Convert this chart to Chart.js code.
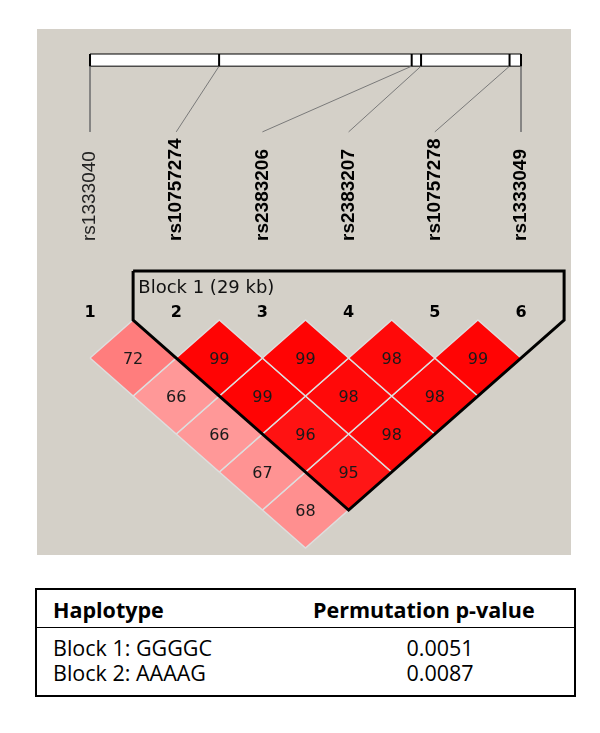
<!DOCTYPE html>
<html>
<head>
<meta charset="utf-8">
<script src="https://cdn.jsdelivr.net/npm/chart.js@4"></script>
<style>
  body { margin: 0; background: #fff; width: 600px; height: 733px; position: relative; overflow: hidden; }
  #ld { position: absolute; left: 37px; top: 29px; }
  .tbl { position: absolute; left: 35px; top: 588px; width: 537px; height: 105px;
         border: 2px solid #000; font-family: "Open Sans", sans-serif; font-size: 21.5px; color: #000; }
  .sep { position: absolute; left: 0; right: 0; top: 37px; border-top: 1.5px solid #000; }
  .cell { position: absolute; white-space: nowrap; line-height: 24px; }
</style>
</head>
<body>
<canvas id="ld" width="534" height="526"></canvas>
<div class="tbl" id="tbl"><div class="sep"></div></div>
<script>
// markers and their physical position (kb from first marker)
const markers = ["rs1333040", "rs10757274", "rs2383206", "rs2383207", "rs10757278", "rs1333049"];
const markerKb = [0, 12.4, 30.9, 31.8, 40.3, 41.4];
const boldMarkers = [false, true, true, true, true, true];

// D' (x100) by distance between markers: lag 1 = neighbours, lag 5 = 1 vs 6
const dpLag1 = [72, 99, 99, 98, 99];
const dpLag2 = [66, 99, 98, 98];
const dpLag3 = [66, 96, 98];
const dpLag4 = [67, 95];
const dpLag5 = [68];

const blockName = "Block 1 (29 kb)";
const blockFirst = 2;
const blockLast = 6;

// table below the plot
const tableHead = ["Haplotype", "Permutation p-value"];
const haplotypes = ["Block 1: GGGGC", "Block 2: AAAAG"];
const pValues = ["0.0051", "0.0087"];

const dpRows = [dpLag1, dpLag2, dpLag3, dpLag4, dpLag5];
const n = markers.length;
const spanKb = markerKb[n - 1];
const kbToX = (kb) => 1 + (n - 1) * kb / spanKb;

// haploview-like colour: full red at D'=1, fading to pink
function dpColor(v) {
  const c = Math.max(0, Math.min(255, Math.round(223 * 2 * (1 - v / 100))));
  return `rgb(255, ${c}, ${c})`;
}

const BAR_TOP = -7.0, BAR_BOT = -6.68, LINK_END = -4.95;
const NAME_Y = -2.08, NUM_Y = -0.18, BLOCK_TOP = -1.29, BLOCK_LABEL_Y = -0.84;

const datasets = [];

// block outline (drawn on top)
datasets.push({
  data: [
    { x: blockFirst - 0.5, y: BLOCK_TOP },
    { x: blockFirst - 0.5, y: 0 },
    { x: (blockFirst + blockLast) / 2, y: blockLast - blockFirst + 1 },
    { x: blockLast + 0.5, y: 0 },
    { x: blockLast + 0.5, y: BLOCK_TOP },
    { x: blockFirst - 0.5, y: BLOCK_TOP },
  ],
  borderColor: "#000",
  borderWidth: 3,
  borderJoinStyle: "miter",
  fill: false,
  pointRadius: 0,
  order: 0,
});

// LD diamonds
const cells = [];
dpRows.forEach((row, k) => {
  const lag = k + 1;
  row.forEach((v, i) => {
    const cx = i + 1 + lag / 2;
    cells.push({ x: cx, y: lag, v: v });
    datasets.push({
      data: [
        { x: cx - 0.5, y: lag },
        { x: cx, y: lag - 1 },
        { x: cx + 0.5, y: lag },
        { x: cx, y: lag + 1 },
        { x: cx - 0.5, y: lag },
      ],
      borderColor: "#dedede",
      borderWidth: 1.5,
      backgroundColor: dpColor(v),
      fill: "shape",
      pointRadius: 0,
      order: 2,
    });
  });
});

// physical map bar
datasets.push({
  data: [
    { x: 1, y: BAR_TOP }, { x: n, y: BAR_TOP },
    { x: n, y: BAR_BOT }, { x: 1, y: BAR_BOT }, { x: 1, y: BAR_TOP },
  ],
  borderColor: "#000",
  borderWidth: 1,
  backgroundColor: "#fff",
  fill: "shape",
  pointRadius: 0,
  order: 3,
});
markerKb.forEach((kb, i) => {
  // tick on the bar
  datasets.push({
    data: [{ x: kbToX(kb), y: BAR_TOP }, { x: kbToX(kb), y: BAR_BOT }],
    borderColor: "#000",
    borderWidth: 2,
    pointRadius: 0,
    fill: false,
    order: 1,
  });
  // link down to the marker name
  datasets.push({
    data: [{ x: kbToX(kb), y: BAR_BOT }, { x: i + 1, y: LINK_END }],
    borderColor: "#7a7a7a",
    borderWidth: 1,
    pointRadius: 0,
    fill: false,
    order: 1,
  });
});

const bgPlugin = {
  id: "bg",
  beforeDraw(chart) {
    const { ctx, width, height } = chart;
    ctx.save();
    ctx.fillStyle = "#d4d0c8";
    ctx.fillRect(0, 0, width, height);
    ctx.restore();
  },
};

const textPlugin = {
  id: "ldText",
  afterDatasetsDraw(chart) {
    const { ctx } = chart;
    const x = chart.scales.x, y = chart.scales.y;
    ctx.save();
    ctx.fillStyle = "#000";

    // marker names, rotated
    markers.forEach((m, i) => {
      ctx.save();
      ctx.translate(x.getPixelForValue(i + 1), y.getPixelForValue(NAME_Y));
      ctx.rotate(-Math.PI / 2);
      ctx.font = (boldMarkers[i] ? "bold " : "") + "19px 'Liberation Sans', Arial, sans-serif";
      ctx.fillStyle = boldMarkers[i] ? "#000" : "#222";
      ctx.textAlign = "left";
      ctx.textBaseline = "middle";
      ctx.fillText(m, 0, 0);
      ctx.restore();
    });

    // marker numbers
    ctx.font = "bold 16px 'DejaVu Sans', sans-serif";
    ctx.textAlign = "center";
    ctx.textBaseline = "middle";
    markers.forEach((m, i) => {
      ctx.fillText(String(i + 1), x.getPixelForValue(i + 1), y.getPixelForValue(NUM_Y));
    });

    // block label
    ctx.font = "18px 'DejaVu Sans', sans-serif";
    ctx.textAlign = "left";
    ctx.fillStyle = "#111";
    ctx.fillText(blockName, x.getPixelForValue(blockFirst - 0.44), y.getPixelForValue(BLOCK_LABEL_Y));

    // D' values
    ctx.font = "16px 'DejaVu Sans', sans-serif";
    ctx.textAlign = "center";
    ctx.fillStyle = "#1a1a1a";
    cells.forEach((c) => {
      ctx.fillText(String(c.v), x.getPixelForValue(c.x), y.getPixelForValue(c.y + 0.05));
    });
    ctx.restore();
  },
};

new Chart(document.getElementById("ld"), {
  type: "line",
  data: { datasets: datasets },
  options: {
    responsive: false,
    animation: false,
    devicePixelRatio: 1,
    layout: { padding: 0 },
    plugins: { legend: { display: false }, tooltip: { enabled: false } },
    scales: {
      x: { type: "linear", min: 0.385, max: 6.58, display: false },
      y: { type: "linear", reverse: true, min: -7.658, max: 6.184, display: false },
    },
    elements: { line: { tension: 0 } },
  },
  plugins: [bgPlugin, textPlugin],
});

// table
const tbl = document.getElementById("tbl");
function addCell(text, left, top, bold, center) {
  const d = document.createElement("div");
  d.className = "cell";
  d.textContent = text;
  d.style.top = top + "px";
  if (center) {
    d.style.left = (left - 60) + "px";
    d.style.width = "120px";
    d.style.textAlign = "center";
  } else {
    d.style.left = left + "px";
  }
  if (bold) d.style.fontWeight = "bold";
  tbl.appendChild(d);
}
addCell(tableHead[0], 16, 8, true, false);
addCell(tableHead[1], 276, 8, true, false);
haplotypes.forEach((h, i) => {
  addCell(h, 16, 46 + i * 25, false, false);
  addCell(pValues[i], 403, 46 + i * 25, false, true);
});
</script>
</body>
</html>
